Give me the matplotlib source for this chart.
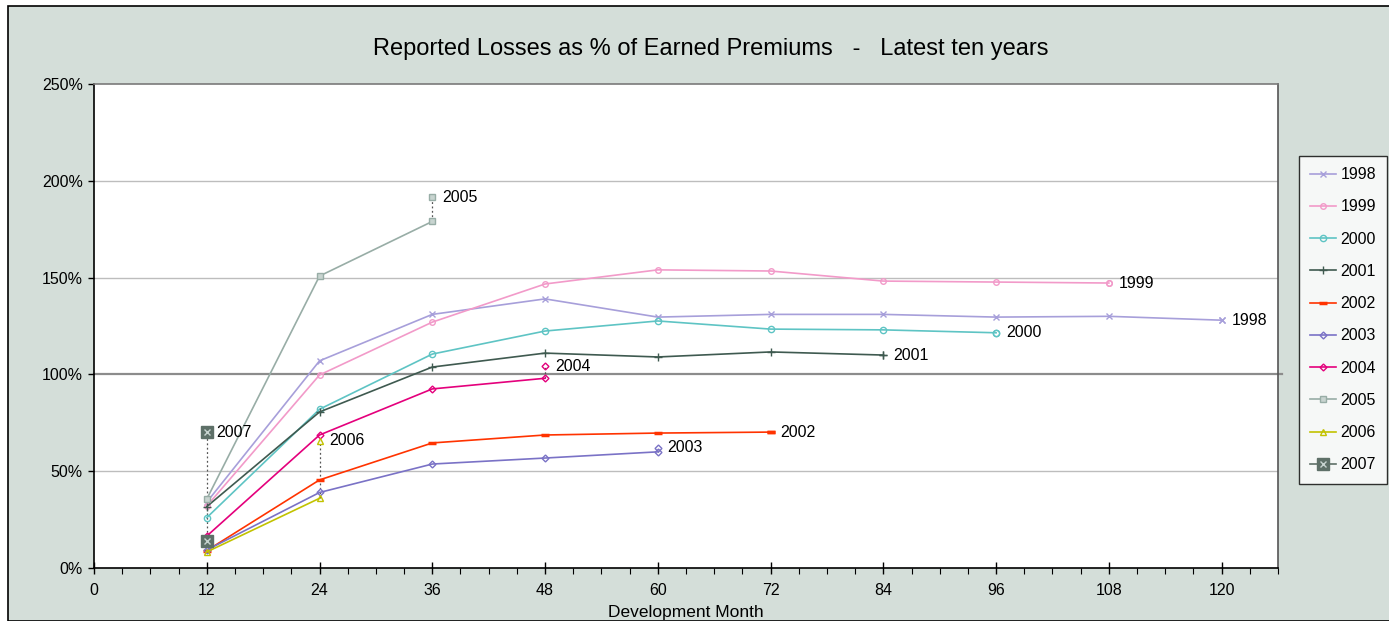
import matplotlib.pyplot as plt
from matplotlib.patches import Rectangle
from matplotlib.ticker import MultipleLocator, FuncFormatter
from matplotlib.legend_handler import HandlerTuple

plt.rcParams['font.family'] = ['Liberation Sans', 'DejaVu Sans']

months = [12, 24, 36, 48, 60, 72, 84, 96, 108, 120]
years = ['1998', '1999', '2000', '2001', '2002', '2003', '2004', '2005', '2006', '2007']

# reported losses as % of earned premiums, by development month
losses = {
    '1998': [34, 107, 131, 139, 129.6, 131, 131, 129.6, 130, 128],
    '1999': [32, 99.7, 127, 146.7, 154, 153.4, 148.2, 147.7, 147.2],
    '2000': [26, 82, 110.5, 122.4, 127.6, 123.4, 123, 121.5],
    '2001': [31.7, 80.6, 103.8, 111, 109, 111.6, 110],
    '2002': [9, 45.5, 64.6, 68.7, 69.7, 70.2],
    '2003': [9.3, 39, 53.7, 56.8, 60],
    '2004': [16.5, 68.7, 92.5, 98],
    '2005': [35.6, 150.8, 179],
    '2006': [8.3, 36],
    '2007': [14],
}
# label marker height (a few are moved off the last point)
label_y = {
    '1998': 128, '1999': 147.2, '2000': 121.5, '2001': 110, '2002': 70.2,
    '2003': 62, '2004': 104.3, '2005': 191.6, '2006': 65.8, '2007': 70,
}

styles = {
    '1998': dict(color='#A79FDA', marker='x', ms=5, mfc='none'),
    '1999': dict(color='#F29AC9', marker='o', ms=4, mfc='none'),
    '2000': dict(color='#5EC4C4', marker='o', ms=4.5, mfc='none'),
    '2001': dict(color='#3F5A50', marker='+', ms=6, mfc='none'),
    '2002': dict(color='#FF3300', marker='_', ms=6, mew=2.5),
    '2003': dict(color='#7A72C6', marker='D', ms=3.5, mfc='none'),
    '2004': dict(color='#E4007C', marker='D', ms=3.5, mfc='none'),
    '2005': dict(color='#98ADA6', marker='s', ms=4, mfc='#C8D4D0'),
    '2006': dict(color='#C2C200', marker='^', ms=5, mfc='none'),
    '2007': dict(color='#5E7068', marker='s', ms=9, mfc='#5E7068'),
}

bg = '#D4DED9'
fig = plt.figure(figsize=(13.89, 6.21), dpi=100, facecolor='white')
fig.patches.append(Rectangle((8 / 1389, 0), 1.0, 1 - 6 / 621, transform=fig.transFigure,
                             facecolor=bg, edgecolor='black', lw=1.2, zorder=-10))
ax = fig.add_axes([94 / 1389, 1 - 568 / 621, (1278 - 94) / 1389, (568 - 84) / 621])
ax.set_facecolor('white')

handles = []
for y in years:
    st = styles[y]
    vals = losses[y]
    xs = months[:len(vals)]
    line, = ax.plot(xs, vals, lw=1.2, **st)
    if y == '2007':
        cross, = ax.plot(xs, vals, ls='none', marker='x', ms=5, mew=1, color='#C8D4D0')
        handles.append((line, cross))
    else:
        handles.append(line)
    # label point and text
    lx, ly = xs[-1], label_y[y]
    if abs(ly - vals[-1]) > 1.5:
        ax.plot([lx, lx], [vals[-1], ly], ls=(0, (1.5, 2)), lw=0.9, color='#555555', zorder=1)
    ax.plot([lx], [ly], ls='none', **st)
    if y == '2007':
        ax.plot([lx], [ly], marker='x', ms=5, mew=1, color='#C8D4D0', ls='none')
    ax.annotate(y, (lx, ly), xytext=(7, 0), textcoords='offset points',
                va='center', ha='left', fontsize=11.5, color='black')

ax.set_xlim(0, 126)
ax.set_ylim(0, 250)
ax.xaxis.set_major_locator(MultipleLocator(12))
ax.xaxis.set_minor_locator(MultipleLocator(3))
ax.yaxis.set_major_locator(MultipleLocator(50))
ax.yaxis.set_major_formatter(FuncFormatter(lambda v, p: f'{int(v)}%'))
ax.tick_params(axis='x', which='major', direction='inout', length=8, width=1, labelsize=11.5, pad=7)
ax.tick_params(axis='x', which='minor', direction='out', length=4, width=0.8)
ax.tick_params(axis='y', which='major', direction='out', length=4, width=1, labelsize=11.5, pad=4)

for v in [50, 150, 200]:
    ax.axhline(v, color='#BDBDBD', lw=1, zorder=0)
ax.plot([0, 1.003], [100, 100], transform=ax.get_yaxis_transform(), color='#8C8C8C',
        lw=1.6, zorder=0, clip_on=False)

ax.spines['top'].set_color('#7A7A7A')
ax.spines['right'].set_color('#555555')
ax.spines['left'].set_color('black')
ax.spines['bottom'].set_color('black')
for s in ax.spines.values():
    s.set_linewidth(1.2)

ax.set_xlabel('Development Month', fontsize=12.5, labelpad=5)
fig.text(711 / 1389, 1 - 49 / 621, 'Reported Losses as % of Earned Premiums   -   Latest ten years',
         ha='center', va='center', fontsize=17)

leg = ax.legend(handles, years, loc='upper left', bbox_to_anchor=(1299 / 1389, 1 - 156 / 621),
                bbox_transform=fig.transFigure, fontsize=11.5, frameon=True, fancybox=False,
                edgecolor='black', labelspacing=1.08, handlelength=1.6, handletextpad=0.3,
                borderpad=0.7, borderaxespad=0,
                handler_map={tuple: HandlerTuple(ndivide=1, pad=0)})
leg.get_frame().set_linewidth(1)

fig.savefig('out.png', dpi=100, facecolor=fig.get_facecolor())
